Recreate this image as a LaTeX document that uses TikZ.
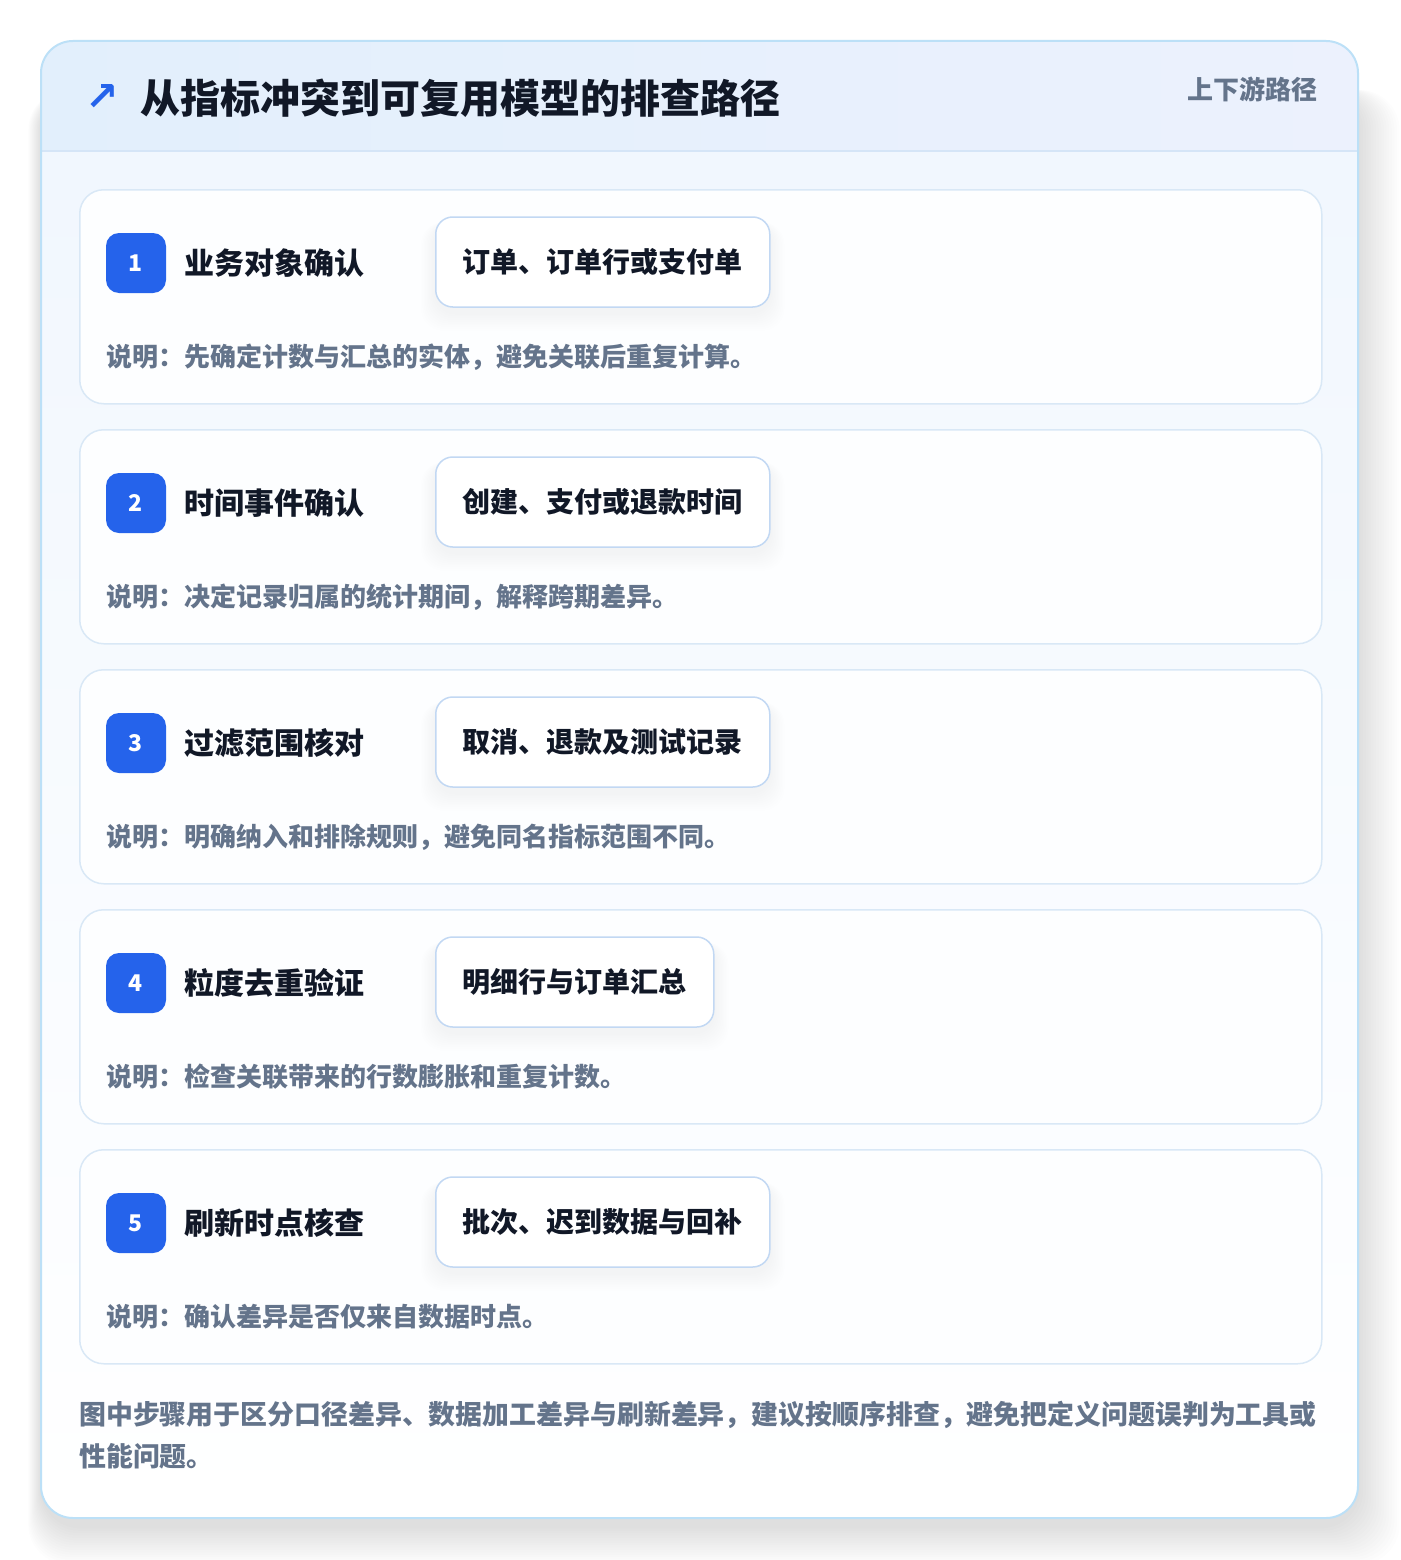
\documentclass[tikz,border=0pt]{standalone}
\usepackage{fontspec}
\setmainfont{Noto Sans CJK SC}
\newfontfamily\symfont{DejaVu Sans}
\usetikzlibrary{calc}
\pgfdeclarelayer{shadowlayer}
\pgfdeclarelayer{cardlayer}
\pgfdeclarelayer{tagshadow}
\pgfsetlayers{shadowlayer,cardlayer,tagshadow,main}
\definecolor{outerborder}{HTML}{BCE0F7}
\definecolor{hdrL}{HTML}{E2EFFC}
\definecolor{hdrR}{HTML}{ECF1FD}
\definecolor{hdrline}{HTML}{D5E5F7}
\definecolor{bodytop}{HTML}{F1F7FE}
\definecolor{cardborder}{HTML}{D9E8F6}
\definecolor{cardfill}{HTML}{FDFEFF}
\definecolor{badgeblue}{HTML}{2563EB}
\definecolor{ink}{HTML}{111827}
\definecolor{muted}{HTML}{64748B}
\definecolor{tagborder}{HTML}{C2D8F3}
\tikzset{
  card/.style={draw=cardborder, line width=1.5pt, fill=cardfill, rounded corners=24pt,
    minimum width=1242pt, minimum height=214pt, anchor=north west, inner sep=0pt},
  badge/.style={fill=badgeblue, rounded corners=13pt, minimum width=60pt, minimum height=60pt,
    inner sep=0pt, text=white, font=\bfseries\fontsize{23}{23}\selectfont},
  steptitle/.style={anchor=west, inner sep=0pt, text=ink, font=\bfseries\fontsize{30}{30}\selectfont},
  tagbox/.style={draw=tagborder, line width=1.5pt, fill=white, rounded corners=17pt,
    minimum height=90pt, inner xsep=27pt, inner ysep=0pt, anchor=west, text=ink,
    font=\bfseries\fontsize{28}{28}\selectfont},
  desc/.style={anchor=west, inner sep=0pt, text=muted, font=\bfseries\fontsize{26}{26}\selectfont},
}
\begin{document}
\begin{tikzpicture}[x=1pt,y=-1pt]
\useasboundingbox (0,0) rectangle (1400,1560);
\begin{pgfonlayer}{shadowlayer}
\fill[white] (0,0) rectangle (1400,1560);
% soft shadow of the outer card
\foreach \i in {1,...,16}{
  \fill[black, opacity=0.0065, rounded corners=40pt]
    ($(41,90)+(-0.8*\i,0)$) rectangle ($(1358,1526)+(2.6*\i,2.4*\i)$);
}
% outer card
\path[fill=white, rounded corners=32pt] (41,41) rectangle (1358,1518);
\begin{scope}
  \clip[rounded corners=32pt] (41,41) rectangle (1358,1518);
  \fill[top color=bodytop, bottom color=white] (41,151) rectangle (1358,1518);
  \fill[left color=hdrL, right color=hdrR] (41,41) rectangle (1358,151);
  \draw[hdrline, line width=1.5pt] (41,151) -- (1358,151);
\end{scope}
\draw[outerborder, line width=2pt, rounded corners=32pt] (41,41) rectangle (1358,1518);
\end{pgfonlayer}
% header
\node[anchor=center, inner sep=0pt, text=badgeblue, font=\symfont\bfseries\fontsize{40}{40}\selectfont] (icon) at (102,98) {↗};
\node[anchor=west, inner sep=0pt, text=ink, font=\bfseries\fontsize{40}{40}\selectfont] (title) at (140,98) {从指标冲突到可复用模型的排查路径};
\node[anchor=east, inner sep=0pt, text=muted, font=\bfseries\fontsize{26}{26}\selectfont] (scope) at (1318,89) {上下游路径};
% steps
\foreach \i/\st/\tg/\ds in {
  1/业务对象确认/订单、订单行或支付单/说明：先确定计数与汇总的实体，避免关联后重复计算。,
  2/时间事件确认/创建、支付或退款时间/说明：决定记录归属的统计期间，解释跨期差异。,
  3/过滤范围核对/取消、退款及测试记录/说明：明确纳入和排除规则，避免同名指标范围不同。,
  4/粒度去重验证/明细行与订单汇总/说明：检查关联带来的行数膨胀和重复计数。,
  5/刷新时点核查/批次、迟到数据与回补/说明：确认差异是否仅来自数据时点。}{
  \pgfmathsetmacro{\y}{189+(\i-1)*240}
  \begin{pgfonlayer}{cardlayer}
    \node[card] (card\i) at (79,\y) {};
  \end{pgfonlayer}
  \node[badge] (badge\i) at (136,\y+74) {\i};
  \node[steptitle] (st\i) at (184,\y+74) {\st};
  \node[tagbox] (tag\i) at (435,\y+73) {\tg};
  \begin{pgfonlayer}{tagshadow}
    \foreach \k in {1,...,10}{
      \path[fill=black, opacity=0.005, rounded corners=22pt]
        ($(tag\i.north west)+(-1.4*\k,6)$) rectangle ($(tag\i.south east)+(1.4*\k,1.8*\k+5)$);
    }
  \end{pgfonlayer}
  \node[desc] (desc\i) at (106,\y+168) {\ds};
}
% footer note
\node[anchor=north west, align=left, inner sep=0pt, text=muted, font=\bfseries\fontsize{26.9}{42}\selectfont] (note) at (79,1401)
  {图中步骤用于区分口径差异、数据加工差异与刷新差异，建议按顺序排查，避免把定义问题误判为工具或\\性能问题。};
\end{tikzpicture}
\end{document}
